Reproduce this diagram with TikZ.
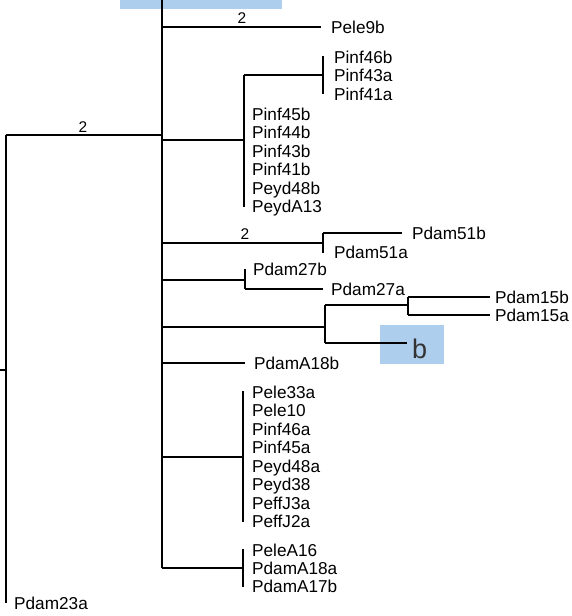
\documentclass[tikz,border=0pt]{standalone}
\usepackage{fontspec}
\setmainfont{Liberation Sans}
\definecolor{hlblue}{RGB}{174,206,237}
\begin{document}
\begin{tikzpicture}[x=1pt,y=-1pt,
  br/.style={line width=2.7pt},
  lab/.style={anchor=base west, inner sep=0pt, yshift=-6.2pt, font=\fontsize{17.2}{18}\selectfont},
  num/.style={anchor=base, inner sep=0pt, font=\fontsize{15.5}{18}\selectfont},
  big/.style={anchor=base west, inner sep=0pt, font=\fontsize{27}{30}\selectfont, text=black!80},
  hl/.style={fill=hlblue, draw=none}]
\useasboundingbox (0,0) rectangle (571,616);
\clip (0,0) rectangle (571,616);
% highlight boxes
\fill[hl] (120,-5) rectangle (282,9);
\fill[hl] (380,325) rectangle (444,364);

% internal nodes
\coordinate (root) at (6,370);
\coordinate (up) at (0,370);
\coordinate (m) at (162,135);
\coordinate (mtop) at (162,-10);
\coordinate (mbot) at (162,568);
\coordinate (n2) at (244,140);
\coordinate (n2a) at (323,75);
\coordinate (n3) at (323,243);
\coordinate (n4) at (245,280);
\coordinate (n5) at (325,327);
\coordinate (n5a) at (408,305);
\coordinate (n7) at (243,457);
\coordinate (n8) at (243,568);

% leaf ends
\coordinate (e23a) at (6,603);
\coordinate (e9b) at (321,27);
\coordinate (e2top) at (244,75);
\coordinate (e2bot) at (244,207);
\coordinate (e2atop) at (323,56);
\coordinate (e2abot) at (323,94);
\coordinate (e51b) at (402,233);
\coordinate (e51a) at (323,253);
\coordinate (e27b) at (245,269);
\coordinate (e27a) at (323,289);
\coordinate (e5b) at (407,343);
\coordinate (e15b) at (490,297);
\coordinate (e15a) at (490,315);
\coordinate (eA18b) at (245,363);
\coordinate (e7top) at (243,391);
\coordinate (e7bot) at (243,522);
\coordinate (e8top) at (243,549);
\coordinate (e8bot) at (243,587);

% root
\draw[br] (up) -- (root);
\draw[br] (root |- m) -- (root |- e23a);
\draw[br] (root |- m) -- (m);
% main clade
\draw[br] (mtop) -- (mbot);
\draw[br] (m |- e9b) -- (e9b);
\draw[br] (m |- n2) -- (n2);
\draw[br] (e2top) -- (e2bot);
\draw[br] (e2top) -- (n2a);
\draw[br] (e2atop) -- (e2abot);
\draw[br] (m |- n3) -- (n3);
\draw[br] (n3 |- e51b) -- (e51a);
\draw[br] (n3 |- e51b) -- (e51b);
\draw[br] (m |- n4) -- (n4);
\draw[br] (e27b) -- (n4 |- e27a);
\draw[br] (n4 |- e27a) -- (e27a);
\draw[br] (m |- n5) -- (n5);
\draw[br] (n5 |- n5a) -- (n5 |- e5b);
\draw[br] (n5 |- n5a) -- (n5a);
\draw[br] (n5 |- e5b) -- (e5b);
\draw[br] (n5a |- e15b) -- (n5a |- e15a);
\draw[br] (n5a |- e15b) -- (e15b);
\draw[br] (n5a |- e15a) -- (e15a);
\draw[br] (m |- eA18b) -- (eA18b);
\draw[br] (m |- n7) -- (n7);
\draw[br] (e7top) -- (e7bot);
\draw[br] (mbot) -- (n8);
\draw[br] (e8top) -- (e8bot);

% branch numbers
\node[num] (l1) at (83,132) {2};
\node[num] (l2) at (242,23) {2};
\node[num] (l3) at (245,239) {2};

% leaf labels
\node[lab] (Pele9b) at (331,27) {Pele9b};
\node[lab] (Pinf46b) at (334,57) {Pinf46b};
\node[lab] (Pinf43a) at (334,75.5) {Pinf43a};
\node[lab] (Pinf41a) at (334,94) {Pinf41a};
\node[lab] (Pinf45b) at (252,114) {Pinf45b};
\node[lab] (Pinf44b) at (252,132.5) {Pinf44b};
\node[lab] (Pinf43b) at (252,151) {Pinf43b};
\node[lab] (Pinf41b) at (252,169.5) {Pinf41b};
\node[lab] (Peyd48b) at (252,188) {Peyd48b};
\node[lab] (PeydA13) at (252,206.5) {PeydA13};
\node[lab] (Pdam51b) at (412,233) {Pdam51b};
\node[lab] (Pdam51a) at (334,252) {Pdam51a};
\node[lab] (Pdam27b) at (253,269) {Pdam27b};
\node[lab] (Pdam27a) at (331,289) {Pdam27a};
\node[lab] (Pdam15b) at (495,297) {Pdam15b};
\node[lab] (Pdam15a) at (495,315) {Pdam15a};
\node[big] (b) at (412,358) {b};
\node[lab] (PdamA18b) at (254,363) {PdamA18b};
\node[lab] (Pele33a) at (252,392) {Pele33a};
\node[lab] (Pele10) at (252,410.5) {Pele10};
\node[lab] (Pinf46a) at (252,429) {Pinf46a};
\node[lab] (Pinf45a) at (252,447.5) {Pinf45a};
\node[lab] (Peyd48a) at (252,466) {Peyd48a};
\node[lab] (Peyd38) at (252,484.5) {Peyd38};
\node[lab] (PeffJ3a) at (252,503) {PeffJ3a};
\node[lab] (PeffJ2a) at (252,521.5) {PeffJ2a};
\node[lab] (PeleA16) at (252,550) {PeleA16};
\node[lab] (PdamA18a) at (252,568) {PdamA18a};
\node[lab] (PdamA17b) at (252,586) {PdamA17b};
\node[lab] (Pdam23a) at (14,603) {Pdam23a};
\end{tikzpicture}
\end{document}
